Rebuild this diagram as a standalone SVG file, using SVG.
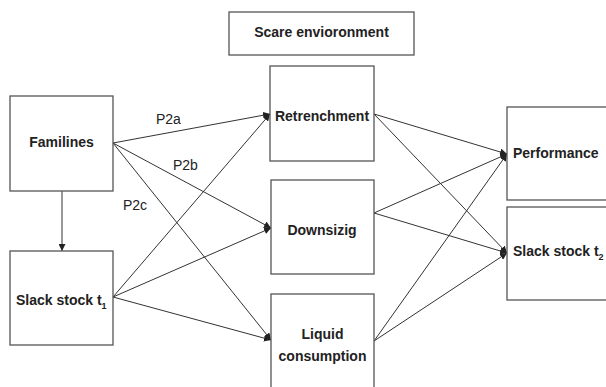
<svg xmlns="http://www.w3.org/2000/svg" width="606" height="387" viewBox="0 0 606 387">
<defs>
<marker id="ah" viewBox="0 0 10 10" refX="10" refY="5" markerWidth="7" markerHeight="7" markerUnits="userSpaceOnUse" orient="auto">
<path d="M0,0 L10,5 L0,10 z" fill="#222"/>
</marker>
<style>
.box{fill:#fff;stroke:#555;stroke-width:1.3}
.lbl{font-family:"Liberation Sans",Arial,sans-serif;font-size:14px;font-weight:bold;fill:#222}
.pl{font-family:"Liberation Sans",Arial,sans-serif;font-size:14px;fill:#222}
.sub{font-size:9px}
#connectors line{stroke:#333;stroke-width:1;fill:none;marker-end:url(#ah)}
</style>
</defs>
<rect width="606" height="387" fill="#fff"/>
<g id="connectors">
<line x1="62" y1="191" x2="62" y2="251"/>
<line x1="113" y1="143" x2="270" y2="114"/>
<line x1="113" y1="143" x2="271" y2="228"/>
<line x1="113" y1="143" x2="271" y2="340"/>
<line x1="113" y1="297" x2="270" y2="114"/>
<line x1="113" y1="297" x2="271" y2="228"/>
<line x1="113" y1="297" x2="271" y2="340"/>
<line x1="374" y1="114" x2="507" y2="154"/>
<line x1="374" y1="114" x2="507" y2="253"/>
<line x1="374" y1="213" x2="507" y2="154"/>
<line x1="374" y1="213" x2="507" y2="253"/>
<line x1="374" y1="341" x2="507" y2="154"/>
<line x1="374" y1="341" x2="507" y2="253"/>
</g>
<g id="labels">
<text class="pl" x="156" y="124">P2a</text>
<text class="pl" x="173" y="170">P2b</text>
<text class="pl" x="123" y="210">P2c</text>
</g>
<g id="scare">
<rect class="box" x="229" y="12" width="185" height="43"/>
<text class="lbl" x="321.5" y="37" text-anchor="middle">Scare envioronment</text>
</g>
<g id="familines">
<rect class="box" x="10" y="96" width="103" height="95"/>
<text class="lbl" x="61.5" y="147" text-anchor="middle">Familines</text>
</g>
<g id="slack1">
<rect class="box" x="10" y="251" width="103" height="94"/>
<text class="lbl" x="16" y="305">Slack stock t<tspan class="sub" dy="4">1</tspan></text>
</g>
<g id="retrenchment">
<rect class="box" x="270" y="66" width="104" height="95"/>
<text class="lbl" x="322" y="121" text-anchor="middle">Retrenchment</text>
</g>
<g id="downsizig">
<rect class="box" x="271" y="180" width="103" height="94"/>
<text class="lbl" x="322" y="235" text-anchor="middle">Downsizig</text>
</g>
<g id="liquid">
<rect class="box" x="271" y="294" width="103" height="100"/>
<text class="lbl" x="322.5" y="339" text-anchor="middle">Liquid</text>
<text class="lbl" x="322.5" y="361" text-anchor="middle">consumption</text>
</g>
<g id="performance">
<rect class="box" x="507" y="107" width="110" height="93"/>
<text class="lbl" x="513" y="158">Performance</text>
</g>
<g id="slack2">
<rect class="box" x="507" y="207" width="110" height="93"/>
<text class="lbl" x="513" y="256">Slack stock t<tspan class="sub" dy="4">2</tspan></text>
</g>
</svg>
